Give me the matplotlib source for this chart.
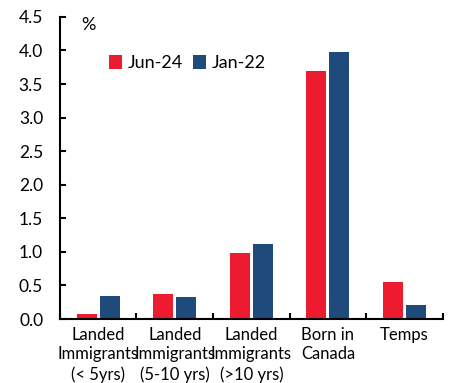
import matplotlib

matplotlib.use("Agg")
import matplotlib.pyplot as plt
import numpy as np

plt.rcParams["font.family"] = ["Lato", "DejaVu Sans"]

categories = [
    "Landed\nImmigrants\n(< 5yrs)",
    "Landed\nImmigrants\n(5-10 yrs)",
    "Landed\nImmigrants\n(>10 yrs)",
    "Born in\nCanada",
    "Temps",
]
jun24 = [0.08, 0.38, 0.99, 3.70, 0.55]
jan22 = [0.35, 0.33, 1.12, 3.97, 0.21]

RED = "#ED1B2F"
BLUE = "#1F4A7C"

fig = plt.figure(figsize=(4.5, 3.83), dpi=100)
ax = fig.add_axes([0.133, 0.167, 0.851, 0.789])

x = np.arange(len(categories))
w = 0.26
ax.bar(x - 0.15, jun24, width=w, color=RED, label="Jun-24")
ax.bar(x + 0.15, jan22, width=w, color=BLUE, label="Jan-22")

ax.set_xlim(-0.5, len(categories) - 0.5)
ax.set_ylim(0, 4.5)
ax.set_yticks(np.arange(0, 4.51, 0.5))
ax.set_yticklabels([f"{v:.1f}" for v in np.arange(0, 4.51, 0.5)], fontsize=12.5)

# category boundaries as tick marks, labels at centres
ax.set_xticks(np.arange(-0.5, len(categories), 1.0))
ax.set_xticklabels([])
ax.set_xticks(x, minor=True)
ax.set_xticklabels(categories, minor=True, fontsize=12, linespacing=1.28)
ax.tick_params(axis="x", which="minor", length=0, pad=5.5)
ax.tick_params(axis="x", which="major", direction="in", length=4, width=1.5)
ax.tick_params(axis="y", direction="in", length=4, width=1.5, pad=12)

for s in ["top", "right"]:
    ax.spines[s].set_visible(False)
for s in ["left", "bottom"]:
    ax.spines[s].set_linewidth(1.5)

ax.text(0.057, 1.0, "%", transform=ax.transAxes, fontsize=13, va="top", ha="left")
ax.legend(loc="center left", bbox_to_anchor=(0.11, 0.848), frameon=False, fontsize=13,
          handlelength=0.7, handleheight=0.8, handletextpad=0.3, columnspacing=0.6,
          ncol=2, borderaxespad=0)

fig.savefig("out.png", dpi=100)
